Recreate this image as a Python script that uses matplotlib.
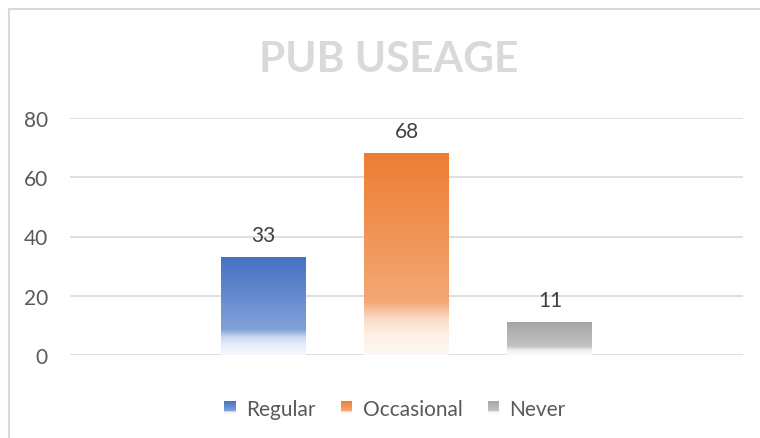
import numpy as np
import matplotlib
matplotlib.use('Agg')
import matplotlib.pyplot as plt
from matplotlib.colors import to_rgb
from matplotlib.patches import Rectangle
from matplotlib.legend_handler import HandlerBase

# Dados do gráfico
series = ['Regular', 'Occasional', 'Never']
valores = [33, 68, 11]
cores = ['#4472C4', '#ED7D31', '#A5A5A5']
yticks = [0, 20, 40, 60, 80]
titulo = 'PUB USEAGE'

plt.rcParams['font.family'] = ['Lato', 'DejaVu Sans']

# paradas do gradiente (posição a partir do topo, fração de branco)
paradas_pos = [0.0, 0.74, 0.82, 0.90, 1.0]
paradas_branco = [0.0, 0.33, 0.72, 0.88, 0.94]


def gradiente(cor, n=200):
    """Gera as cores de cima para baixo, clareando para o branco."""
    base = np.array(to_rgb(cor))
    t = np.linspace(0, 1, n)
    w = np.interp(t, paradas_pos, paradas_branco)[:, None]
    return base * (1 - w) + w


class HandlerGradiente(HandlerBase):
    def create_artists(self, legend, orig_handle, xdescent, ydescent,
                       width, height, fontsize, trans):
        cols = gradiente(orig_handle.get_facecolor(), n=12)
        artistas = []
        h = height / len(cols)
        for i, c in enumerate(cols):
            y = -ydescent + height - (i + 1) * h
            r = Rectangle((-xdescent, y), width, h * 1.05, facecolor=c,
                          edgecolor='none', transform=trans)
            artistas.append(r)
        return artistas


fig = plt.figure(figsize=(7.6, 4.39), dpi=100)
ax = fig.add_axes([70 / 760, (439 - 356) / 439, (743 - 70) / 760, (356 - 119) / 439])

largura = 85 / 143.5
x = np.arange(len(series))
for xi, v, c in zip(x, valores, cores):
    img = gradiente(c)[:, None, :]
    ax.imshow(img, extent=[xi - largura / 2, xi + largura / 2, 0, v],
              aspect='auto', zorder=3, interpolation='bilinear')
    ax.annotate(str(v), (xi, v), xytext=(0, 16), textcoords='offset points',
                ha='center', va='center', fontsize=15, color='#404040')

ax.set_xlim(-1.345, 3.345)
ax.set_ylim(0, 80)
ax.set_yticks(yticks)
ax.set_xticks([])
ax.grid(axis='y', color='#D9D9D9', linewidth=1.2, zorder=0)
ax.set_axisbelow(True)
for s in ax.spines.values():
    s.set_visible(False)
ax.tick_params(axis='y', length=0, pad=16, labelsize=15, labelcolor='#595959')
for lbl in ax.get_yticklabels():
    lbl.set_clip_on(False)

# legenda
handles = [Rectangle((0, 0), 1, 1, facecolor=c) for c in cores]
fig.legend(handles, series, loc='center', bbox_to_anchor=(395 / 760, 1 - 410 / 439),
           ncol=3, frameon=False, fontsize=15, labelcolor='#595959',
           handlelength=0.55, handleheight=0.55, handletextpad=0.5, columnspacing=1.2,
           handler_map={Rectangle: HandlerGradiente()})

# título
fig.text(389 / 760, 1 - 60 / 439, titulo, ha='center', va='center',
         fontsize=30.5, fontweight='bold', color='#D9D9D9')

# borda do gráfico
fig.add_artist(Rectangle((8.5 / 760, -0.1), 1.2, (439 - 9.5) / 439 + 0.1,
                         transform=fig.transFigure, fill=False,
                         edgecolor='#D9D9D9', linewidth=1.5))

fig.savefig('out.png', dpi=100)
